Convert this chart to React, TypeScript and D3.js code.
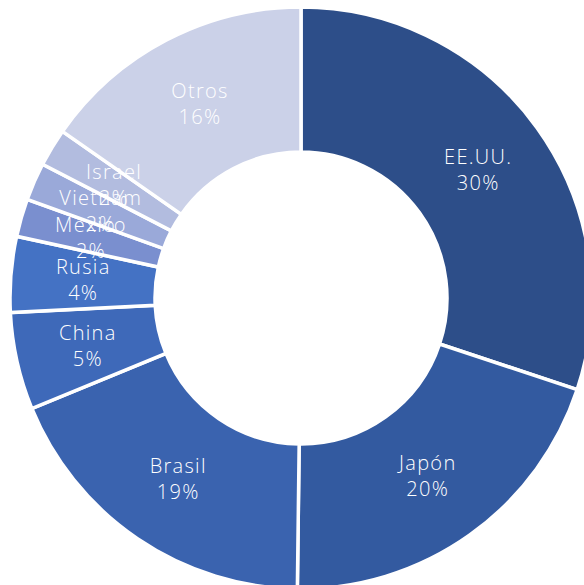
import React from "react";
import * as d3 from "d3";

const categories = ["EE.UU.", "Japón", "Brasil", "China", "Rusia", "Mexico", "Vietnam", "Israel", "Otros"];
const values = [30.1, 20.1, 18.6, 5.4, 4.2, 2.1, 2.1, 2.1, 15.3];
const labels = ["30%", "20%", "19%", "5%", "4%", "2%", "2%", "2%", "16%"];
const colors = ["#2D4E89", "#335AA0", "#3A63AF", "#3E69B9", "#4472C4", "#7A8FCF", "#9AA9D9", "#B2BCDF", "#CBD1E8"];

export default function App() {
  const W = 584, H = 585;
  const cx = 301, cy = 298, R = 291, r = 146;
  const pie = d3.pie<number>().sort(null).value((d) => d)(values);
  const arc = d3.arc<d3.PieArcDatum<number>>().innerRadius(r).outerRadius(R);
  return (
    <svg width={W} height={H} style={{ position: "absolute", left: 0, top: 0 }}>
      <g transform={`translate(${cx},${cy})`}>
        {pie.map((p, i) => (
          <path key={i} d={arc(p) || ""} fill={colors[i]} stroke="#fff" strokeWidth={3.5} />
        ))}
        {pie.map((p, i) => {
          const [x, y] = arc.centroid(p);
          return (
            <text key={"t" + i} x={x} y={y} textAnchor="middle" fill="#fff" fontFamily="Open Sans, sans-serif" fontWeight={300} fontSize={20} style={{ letterSpacing: "1.3px" }}>
              <tspan x={x} dy={-6}>{categories[i]}</tspan>
              <tspan x={x} dy={26}>{labels[i]}</tspan>
            </text>
          );
        })}
      </g>
    </svg>
  );
}
